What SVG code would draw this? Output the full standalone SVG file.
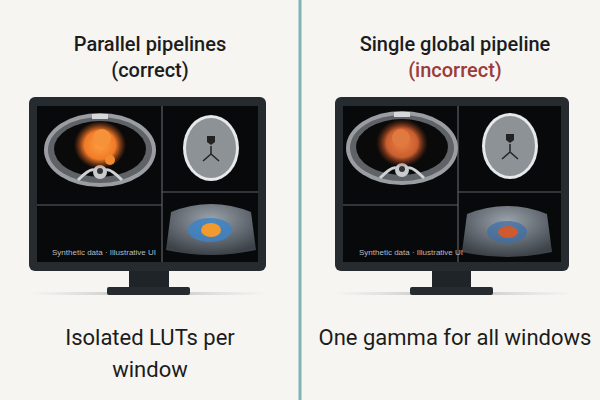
<svg xmlns="http://www.w3.org/2000/svg" width="600" height="400" viewBox="0 0 600 400">
<defs>
<style>
.t{font-family:Roboto,"Liberation Sans",Arial,sans-serif;fill:#1c1c1c;text-anchor:middle;font-weight:500}
.h{font-size:20px}
.b{font-size:22px;font-weight:400}
.bez{fill:#262b30}
.scr{fill:#07090b}
.div{stroke:#5d6166;stroke-width:1.2}
.cap{font-family:"Liberation Sans",Arial,sans-serif;font-size:8px;fill:#b9bcc0}
</style>
<radialGradient id="heart" cx="0.5" cy="0.5" r="0.5">
<stop offset="0" stop-color="#ffa040"/><stop offset="0.6" stop-color="#f07a28"/><stop offset="1" stop-color="#c0501a" stop-opacity="0"/>
</radialGradient>
<radialGradient id="heart2" cx="0.5" cy="0.5" r="0.5">
<stop offset="0" stop-color="#f08040"/><stop offset="0.6" stop-color="#c85e30"/><stop offset="1" stop-color="#803010" stop-opacity="0"/>
</radialGradient>
<radialGradient id="us" cx="0.5" cy="0.3" r="0.7">
<stop offset="0" stop-color="#9aa2ab"/><stop offset="1" stop-color="#3c4248"/>
</radialGradient>
<linearGradient id="shadow" x1="0" x2="1"><stop offset="0" stop-color="#ccc" stop-opacity="0"/><stop offset="0.5" stop-color="#bbb"/><stop offset="1" stop-color="#ccc" stop-opacity="0"/></linearGradient>
<g id="ct">
<ellipse cx="0" cy="0" rx="56" ry="37" fill="#9a9ea2"/>
<ellipse cx="0" cy="0" rx="52" ry="33" fill="#5f6367"/>
<ellipse cx="0" cy="-1" rx="46" ry="28" fill="#0a0a0a"/>
<rect x="-8" y="-36" width="16" height="5" fill="#d6d8da"/>
<path d="M-22 30 Q-10 18 -6 20 M22 30 Q10 18 6 20" stroke="#cfd2d4" stroke-width="3" fill="none"/>
<circle cx="0" cy="22" r="7" fill="#c9cccf"/>
<circle cx="0" cy="21" r="3" fill="#333"/>
</g>
<g id="brain">
<ellipse cx="0" cy="0" rx="28" ry="33" fill="#e6e8ea"/>
<ellipse cx="0" cy="0" rx="25" ry="30" fill="#8d9296"/>
<path d="M-4 -12 h8 v6 l-4 3 l-4 -3z" fill="#222"/>
<path d="M0 -2 v8 M0 6 l-8 7 M0 6 l8 7" stroke="#222" stroke-width="1.5" fill="none"/>
</g>
<g id="fan">
<path d="M-40 -18 Q0 -34 40 -18 L45 20 Q0 30 -45 20 Z" fill="url(#us)"/>
</g>
</defs>
<rect width="600" height="400" fill="#f6f5f2"/>
<line x1="300" y1="0" x2="300" y2="400" stroke="#7fb3b5" stroke-width="3"/>

<g id="left">
<text class="t h" x="150" y="51">Parallel pipelines</text>
<text class="t h" x="150" y="77">(correct)</text>
<rect x="28" y="292" width="240" height="3" fill="url(#shadow)"/>
<rect x="129" y="268" width="40" height="22" fill="#1f2428"/>
<rect x="107" y="287" width="83" height="8" rx="2" fill="#262b30"/>
<rect class="bez" x="29" y="97" width="237" height="174" rx="6"/>
<rect class="scr" x="37" y="106" width="221" height="156"/>
<line class="div" x1="162" y1="106" x2="162" y2="262"/>
<line class="div" x1="37" y1="205" x2="162" y2="205"/>
<line class="div" x1="162" y1="192" x2="258" y2="192"/>
<use href="#ct" x="100" y="150"/>
<ellipse cx="100" cy="145" rx="26" ry="24" fill="url(#heart)"/>
<circle cx="102" cy="138" r="9" fill="#f5923a"/>
<circle cx="110" cy="160" r="5" fill="#f08a30"/>
<use href="#brain" x="211" y="148"/>
<use href="#fan" x="211" y="230"/>
<ellipse cx="210" cy="230" rx="22" ry="12" fill="#3d82c4" opacity="0.85"/>
<ellipse cx="211" cy="230" rx="10" ry="7" fill="#f09a30"/>
<text class="cap" x="52" y="255">Synthetic data · Illustrative UI</text>
<text class="t b" x="150" y="345">Isolated LUTs per</text>
<text class="t b" x="150" y="377">window</text>
</g>

<g id="right">
<text class="t h" x="455" y="51">Single global pipeline</text>
<text class="t h" x="455" y="77" style="fill:#9b3b3b">(incorrect)</text>
<rect x="333" y="292" width="240" height="3" fill="url(#shadow)"/>
<rect x="432" y="268" width="39" height="22" fill="#1f2428"/>
<rect x="410" y="287" width="83" height="8" rx="2" fill="#262b30"/>
<rect class="bez" x="335" y="97" width="234" height="174" rx="6"/>
<rect class="scr" x="343" y="106" width="218" height="156"/>
<line class="div" x1="458" y1="106" x2="458" y2="262"/>
<line class="div" x1="343" y1="205" x2="458" y2="205"/>
<line class="div" x1="458" y1="192" x2="561" y2="192"/>
<use href="#ct" x="402" y="148"/>
<ellipse cx="402" cy="143" rx="26" ry="24" fill="url(#heart2)"/>
<circle cx="401" cy="138" r="9" fill="#e07a40"/>
<use href="#brain" x="510" y="146"/>
<use href="#fan" x="507" y="232"/>
<ellipse cx="507" cy="232" rx="20" ry="11" fill="#3a6ea8" opacity="0.7"/>
<ellipse cx="508" cy="232" rx="10" ry="6" fill="#d05a30"/>
<text class="cap" x="359" y="255">Synthetic data · Illustrative UI</text>
<text class="t b" x="455" y="345">One gamma for all windows</text>
</g>
</svg>
